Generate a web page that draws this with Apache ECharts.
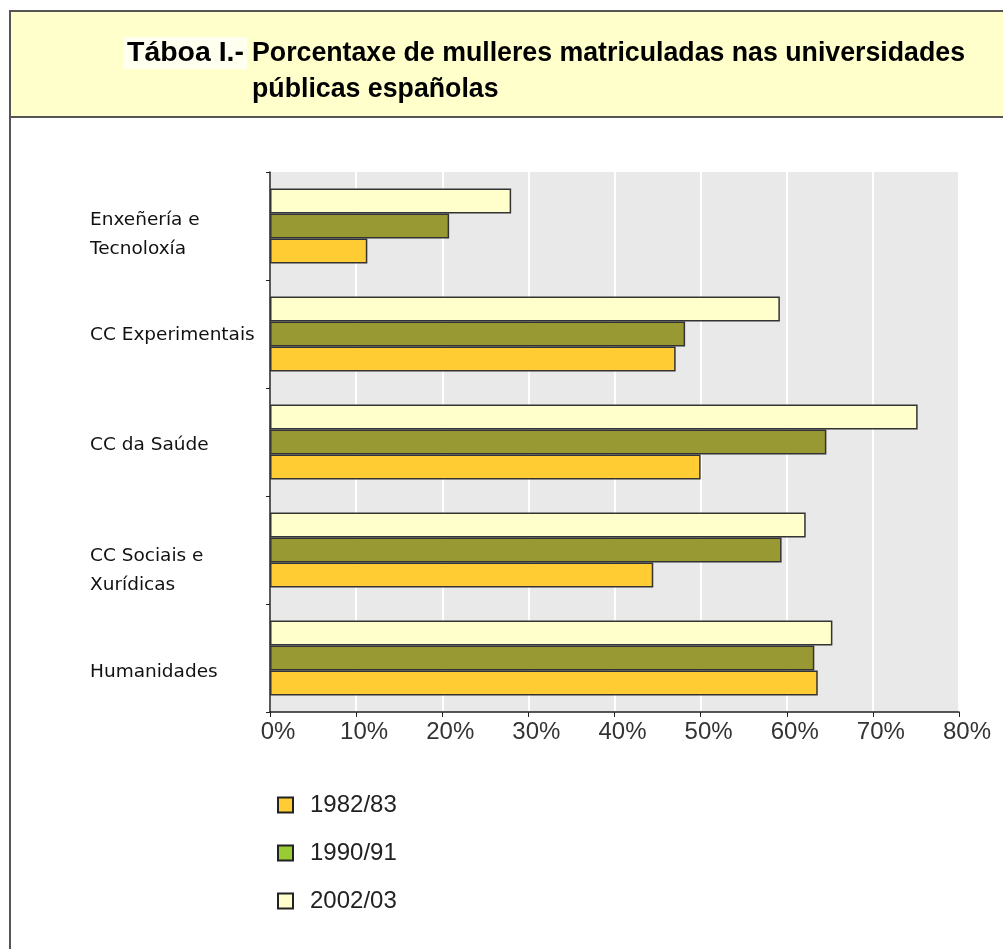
<!DOCTYPE html>
<html>
<head>
<meta charset="utf-8">
<script src="https://cdn.jsdelivr.net/npm/echarts@6/dist/echarts.min.js"></script>
<style>
  html, body { margin: 0; padding: 0; background: #fff; }
  #chart { width: 1003px; height: 949px; }
</style>
</head>
<body>
<div id="chart"></div>
<script>
// Study fields, listed bottom to top along the category axis
const categories = ['Humanidades', 'CC Sociais e\nXurídicas', 'CC da Saúde', 'CC Experimentais', 'Enxeñería e\nTecnoloxía'];
const years = ['1982/83', '1990/91', '2002/03'];
// Share of women enrolled (%), same order as categories
const values1982 = [63.6, 44.5, 50.0, 47.1, 11.3];
const values1990 = [63.2, 59.4, 64.6, 48.2, 20.8];
const values2002 = [65.3, 62.2, 75.2, 59.2, 28.0];
const xTicks = [0, 10, 20, 30, 40, 50, 60, 70, 80];
const titleLabel = 'Táboa I.-';
const titleLines = ['Porcentaxe de mulleres matriculadas nas universidades', 'públicas españolas'];

const barColors = ['#ffcc33', '#999933', '#ffffcc'];
const legendColors = ['#ffcc33', '#99cc33', '#ffffcc'];
const seriesValues = [values1982, values1990, values2002];

// downward nudges (px) for the category labels, by category index
const labelNudge = [14, 21, 3, 1, 9];

const font = "'Liberation Sans', Arial, sans-serif";
const labelFont = "'DejaVu Sans', Verdana, sans-serif";
const titleFontCss = "bold 27px 'Liberation Sans', Arial, sans-serif";

// condensed heading: measure and squeeze horizontally
const ctx = document.createElement('canvas').getContext('2d');
ctx.font = titleFontCss;
const titleScale = 713 / ctx.measureText(titleLines[0]).width;
const labelScale = 117 / ctx.measureText(titleLabel).width;

// rich styles: a spacer line of height 2*n pushes the label block down by n
const rich = { t: { fontFamily: labelFont, fontSize: 18.5, lineHeight: 29, color: '#111', align: 'left' } };
labelNudge.forEach((n, i) => {
  rich['g' + i] = { fontSize: 1, lineHeight: 2 * n, height: 2 * n };
});

const chart = echarts.init(document.getElementById('chart'), null, { renderer: 'canvas' });

chart.setOption({
  backgroundColor: '#ffffff',
  animation: false,
  graphic: [
    { type: 'rect', z: -10, shape: { x: 10, y: 11, width: 1010, height: 960 },
      style: { fill: '#ffffff', stroke: '#555555', lineWidth: 2 } },
    { type: 'rect', z: -9, shape: { x: 10, y: 11, width: 1010, height: 106 },
      style: { fill: '#ffffcc', stroke: '#555555', lineWidth: 2 } },
    { type: 'rect', z: -8, shape: { x: 123, y: 37, width: 124, height: 32 },
      style: { fill: '#fffff0' } },
    { type: 'text', x: 127, y: 54, scaleX: labelScale,
      style: { text: titleLabel, font: titleFontCss, fill: '#000', verticalAlign: 'middle' } },
    { type: 'text', x: 252, y: 54, scaleX: titleScale,
      style: { text: titleLines[0], font: titleFontCss, fill: '#000', verticalAlign: 'middle' } },
    { type: 'text', x: 252, y: 90, scaleX: titleScale,
      style: { text: titleLines[1], font: titleFontCss, fill: '#000', verticalAlign: 'middle' } }
  ],
  legend: {
    orient: 'vertical',
    left: 272, top: 788,
    itemWidth: 15, itemHeight: 15,
    itemGap: 24,
    icon: 'rect',
    textStyle: { fontFamily: font, fontSize: 24, color: '#222', padding: [0, 0, 0, 12] },
    data: years.map((y, i) => ({
      name: y,
      itemStyle: { color: legendColors[i], borderColor: '#222', borderWidth: 2 }
    }))
  },
  grid: { left: 270, right: 44, top: 172, bottom: 237, containLabel: false, outerBoundsMode: 'none' },
  xAxis: {
    type: 'value',
    min: 0, max: 80, interval: 10,
    axisLine: { show: true, lineStyle: { color: '#222', width: 1.5 } },
    axisTick: { show: true, length: 5, lineStyle: { color: '#222' } },
    axisLabel: { fontFamily: font, fontSize: 24, color: '#333', margin: 8, padding: [0, 0, 0, 16],
      formatter: v => (xTicks.indexOf(v) >= 0 ? v + '%' : '') },
    splitLine: { show: true, lineStyle: { color: '#ffffff', width: 2 } },
    splitArea: { show: true, areaStyle: { color: ['#e9e9e9', '#e9e9e9'] } }
  },
  yAxis: {
    type: 'category',
    data: categories,
    axisLine: { show: true, lineStyle: { color: '#222', width: 1.5 } },
    axisTick: { show: true, length: 4, lineStyle: { color: '#222' } },
    axisLabel: {
      fontFamily: labelFont, fontSize: 18.5, color: '#111', align: 'left', margin: 180,
      formatter: (value, idx) => {
        const lines = value.split('\n').map(s => '{t|' + s + '}').join('\n');
        return labelNudge[idx] > 0 ? '{g' + idx + '| }\n' + lines : lines;
      },
      rich: rich
    }
  },
  // later years are listed first so they sit at the top of each group
  series: [2, 1, 0].map(i => ({
    name: years[i],
    type: 'bar',
    data: seriesValues[i],
    barWidth: 25,
    barGap: '0%',
    itemStyle: { color: barColors[i], borderColor: '#333', borderWidth: 1.5 }
  }))
});
</script>
</body>
</html>
